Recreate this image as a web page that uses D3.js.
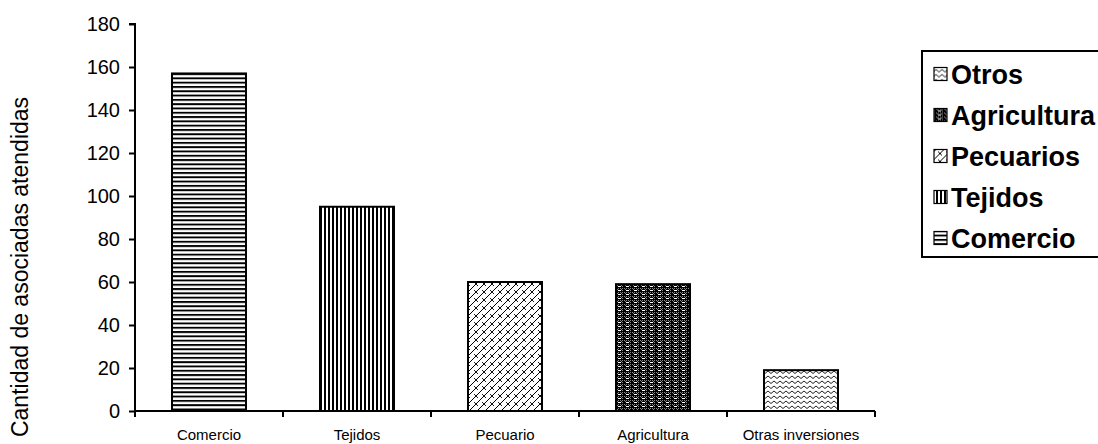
<!DOCTYPE html>
<html>
<head>
<meta charset="utf-8">
<script src="https://cdn.jsdelivr.net/npm/d3@7/dist/d3.min.js"></script>
<style>
  html, body { margin: 0; padding: 0; background: #fff; }
  svg { display: block; }
  text { font-family: "Liberation Sans", Arial, sans-serif; fill: #000; }
</style>
</head>
<body>
<svg id="chart" width="1098" height="444"></svg>
<script>
const categories = ["Comercio", "Tejidos", "Pecuario", "Agricultura", "Otras inversiones"];
const values = [157, 95, 60, 59, 19];
const yTicks = [0, 20, 40, 60, 80, 100, 120, 140, 160, 180];
const legendLabels = ["Otros", "Agricultura", "Pecuarios", "Tejidos", "Comercio"];
const legendPatterns = ["p-otros", "p-agri", "p-pecu", "p-teji", "p-come"];
const barPatterns = ["p-come", "p-teji", "p-pecu", "p-agri", "p-otros"];

const svg = d3.select("#chart");
const defs = svg.append("defs");

// Patterns
const pc = defs.append("pattern").attr("id", "p-come").attr("patternUnits", "userSpaceOnUse")
  .attr("width", 8).attr("height", 4.3);
pc.append("rect").attr("width", 8).attr("height", 4.3).attr("fill", "#fff");
pc.append("rect").attr("y", 0).attr("width", 8).attr("height", 1.9).attr("fill", "#000");

const pt = defs.append("pattern").attr("id", "p-teji").attr("patternUnits", "userSpaceOnUse")
  .attr("width", 4).attr("height", 8);
pt.append("rect").attr("width", 4).attr("height", 8).attr("fill", "#fff");
pt.append("rect").attr("x", 0).attr("width", 2).attr("height", 8).attr("fill", "#000");

const pp = defs.append("pattern").attr("id", "p-pecu").attr("patternUnits", "userSpaceOnUse")
  .attr("width", 8).attr("height", 8);
pp.append("rect").attr("width", 8).attr("height", 8).attr("fill", "#fff");
pp.append("path").attr("d", "M-1,9 L9,-1 M-1,1 L1,-1 M7,9 L9,7").attr("stroke", "#000").attr("stroke-width", 1);
pp.append("path").attr("d", "M2,2 L6,6").attr("stroke", "#000").attr("stroke-width", 0.9);

const pa = defs.append("pattern").attr("id", "p-agri").attr("patternUnits", "userSpaceOnUse")
  .attr("width", 8).attr("height", 4);
pa.append("rect").attr("width", 8).attr("height", 4).attr("fill", "#000");
pa.append("rect").attr("x", 0).attr("y", 0).attr("width", 1).attr("height", 1).attr("fill", "#888");
pa.append("rect").attr("x", 2).attr("y", 0).attr("width", 1).attr("height", 1).attr("fill", "#888");
pa.append("rect").attr("x", 4).attr("y", 0).attr("width", 1).attr("height", 1).attr("fill", "#888");
pa.append("rect").attr("x", 6).attr("y", 0).attr("width", 1).attr("height", 1).attr("fill", "#888");
pa.append("rect").attr("x", 1).attr("y", 1).attr("width", 1).attr("height", 1).attr("fill", "#888");
pa.append("rect").attr("x", 5).attr("y", 1).attr("width", 1).attr("height", 1).attr("fill", "#888");
pa.append("rect").attr("x", 2).attr("y", 2).attr("width", 3).attr("height", 1).attr("fill", "#fff");
pa.append("rect").attr("x", 6).attr("y", 2).attr("width", 1).attr("height", 1).attr("fill", "#888");

const po = defs.append("pattern").attr("id", "p-otros").attr("patternUnits", "userSpaceOnUse")
  .attr("width", 6).attr("height", 5);
po.append("rect").attr("width", 6).attr("height", 5).attr("fill", "#fff");
po.append("path").attr("d", "M0,1 L3,3.5 L6,1").attr("fill", "none").attr("stroke", "#222").attr("stroke-width", 1);

// Layout
const x0 = 135, x1 = 875, yBottom = 411, yTop = 24;
const x = d3.scaleBand().domain(categories).range([x0, x1]).paddingInner(0.5).paddingOuter(0.25);
const y = d3.scaleLinear().domain([0, 180]).range([yBottom, yTop]);

// Bars
svg.append("g").selectAll("rect").data(values).join("rect")
  .attr("x", (d, i) => x(categories[i]))
  .attr("y", d => y(d))
  .attr("width", x.bandwidth())
  .attr("height", d => yBottom - y(d))
  .attr("fill", (d, i) => `url(#${barPatterns[i]})`)
  .attr("stroke", "#000").attr("stroke-width", 2);

// Y axis
const yAxis = d3.axisLeft(y).tickValues(yTicks).tickSize(6).tickPadding(9).tickFormat(d3.format("d"));
const gy = svg.append("g").attr("transform", `translate(${x0},0)`).call(yAxis);
gy.select(".domain").attr("stroke", "#000").attr("stroke-width", 2).attr("d", `M-6,${yTop}H0V${yBottom + 6}`);
gy.selectAll(".tick line").attr("stroke", "#000").attr("stroke-width", 2);
gy.selectAll(".tick text").attr("font-size", 20).attr("font-family", "'Liberation Sans', Arial, sans-serif").attr("fill", "#000");

// X axis
const xEdges = d3.scaleLinear().domain([0, categories.length]).range([x0, x1]);
const gx = svg.append("g").attr("transform", `translate(0,${yBottom})`);
gx.append("path").attr("d", `M${x0},0H${x1}`).attr("stroke", "#000").attr("stroke-width", 2);
gx.selectAll("line.t").data(d3.range(categories.length + 1)).join("line")
  .attr("x1", d => xEdges(d)).attr("x2", d => xEdges(d)).attr("y1", 0).attr("y2", 6)
  .attr("stroke", "#000").attr("stroke-width", 2);
gx.selectAll("text").data(categories).join("text")
  .attr("x", d => x(d) + x.bandwidth() / 2).attr("y", 29)
  .attr("text-anchor", "middle").attr("font-size", 15).text(d => d);

// Y title
svg.append("text").attr("transform", "translate(28,267) rotate(-90)")
  .attr("text-anchor", "middle").attr("font-size", 23).text("Cantidad de asociadas atendidas");

// Legend
const lg = svg.append("g");
lg.append("rect").attr("x", 922).attr("y", 51).attr("width", 200).attr("height", 206)
  .attr("fill", "#fff").attr("stroke", "#000").attr("stroke-width", 2);
const items = lg.selectAll("g.item").data(legendLabels).join("g").attr("class", "item")
  .attr("transform", (d, i) => `translate(0,${83.5 + i * 41})`);
items.append("rect").attr("x", 934).attr("y", -16).attr("width", 13).attr("height", 13)
  .attr("fill", (d, i) => `url(#${legendPatterns[i]})`).attr("stroke", "#000").attr("stroke-width", 1.2);
items.append("text").attr("x", 951).attr("y", 0).attr("font-size", 27).attr("font-weight", "bold").text(d => d);
</script>
</body>
</html>
